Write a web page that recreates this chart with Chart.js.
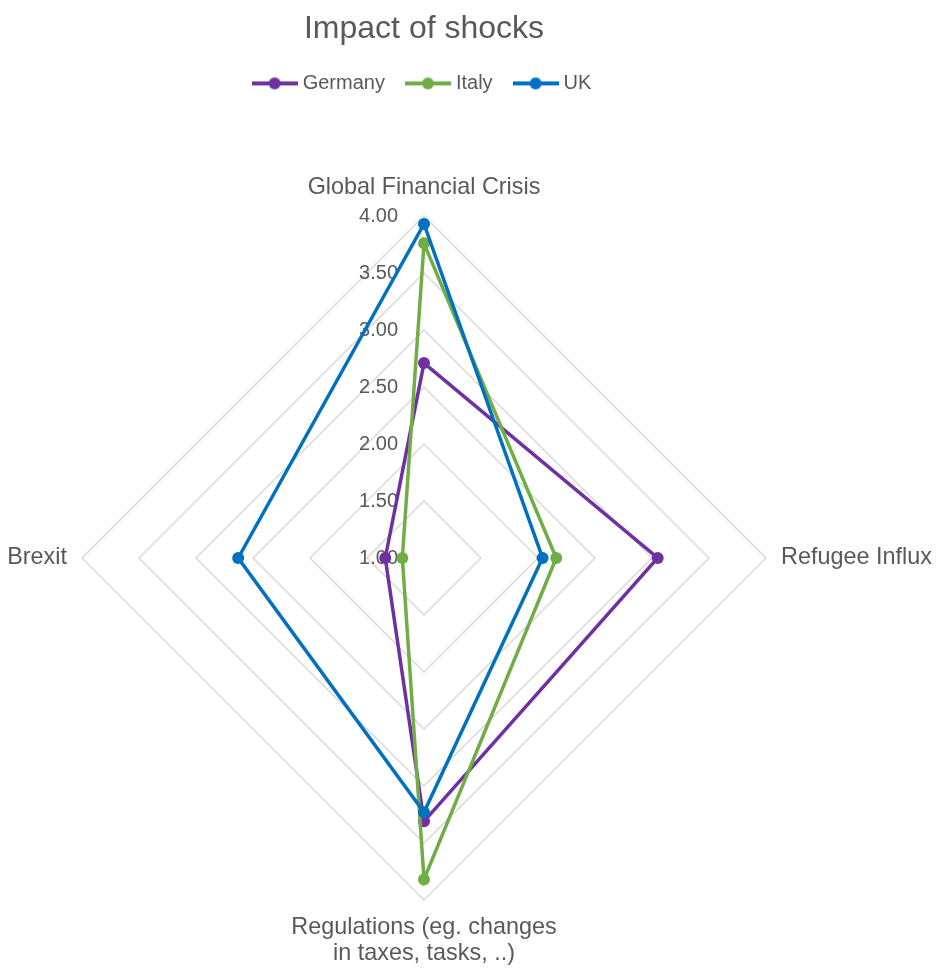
<!DOCTYPE html>
<html>
<head>
<meta charset="utf-8">
<script src="https://cdn.jsdelivr.net/npm/chart.js@4/dist/chart.umd.min.js"></script>
<style>
  html, body { margin: 0; padding: 0; background: #fff; }
  #wrap { width: 939px; height: 974px; position: relative; }
</style>
</head>
<body>
<div id="wrap"><canvas id="chart"></canvas></div>
<script>
const categories = [
    'Global Financial Crisis',
    'Refugee Influx',
    ['Regulations (eg. changes', 'in taxes, tasks, ..)'],
    'Brexit'
];
const germany = [2.71, 3.05, 3.31, 1.34];
const italy = [3.76, 2.16, 3.82, 1.19];
const uk = [3.93, 2.04, 3.23, 2.63];
const tickValues = [1.0, 1.5, 2.0, 2.5, 3.0, 3.5, 4.0];

const textColor = '#595959';
const family = '"Liberation Sans", Arial, sans-serif';
const purple = '#7030a0';
const green = '#70ad47';
const blue = '#0070c0';

// legend marker: short line with a dot in the middle
const makeMarker = (color) => {
    const c = document.createElement('canvas');
    c.width = 46;
    c.height = 14;
    const g = c.getContext('2d');
    g.strokeStyle = color;
    g.lineWidth = 4;
    g.beginPath();
    g.moveTo(0, 7);
    g.lineTo(46, 7);
    g.stroke();
    g.fillStyle = color;
    g.beginPath();
    g.arc(23, 7, 6, 0, Math.PI * 2);
    g.fill();
    return c;
};

// tick values beside the vertical axis + category labels
const radarText = {
    id: 'radarText',
    beforeDatasetsDraw(chart) {
        const scale = chart.scales.r;
        const ctx = chart.ctx;
        ctx.save();
        ctx.fillStyle = textColor;

        ctx.font = `20px ${family}`;
        ctx.textAlign = 'right';
        ctx.textBaseline = 'middle';
        tickValues.forEach(v => {
            const d = scale.getDistanceFromCenterForValue(v);
            ctx.fillText(v.toFixed(2), scale.xCenter - 26, scale.yCenter - d);
        });

        ctx.font = `23.4px ${family}`;
        const lh = 26;
        chart.data.labels.forEach((label, i) => {
            const lines = [].concat(label);
            const p = scale.getPointPosition(i, scale.drawingArea + 15);
            const dx = p.x - scale.xCenter;
            const dy = p.y - scale.yCenter;
            let y;
            if (Math.abs(dx) < 1) {
                ctx.textAlign = 'center';
                y = dy < 0 ? p.y - lh * lines.length + lh / 2 : p.y + lh / 2;
            } else {
                ctx.textAlign = dx > 0 ? 'left' : 'right';
                y = p.y - lh * (lines.length - 1) / 2;
            }
            lines.forEach((t, k) => ctx.fillText(t, p.x, y + k * lh));
        });
        ctx.restore();
    }
};

const markers = [makeMarker(purple), makeMarker(green), makeMarker(blue)];

new Chart(document.getElementById('chart'), {
    type: 'radar',
    data: {
        labels: categories,
        datasets: [
            { label: 'Germany', data: germany, borderColor: purple, backgroundColor: purple, pointBackgroundColor: purple, order: 3 },
            { label: 'Italy', data: italy, borderColor: green, backgroundColor: green, pointBackgroundColor: green, order: 2 },
            { label: 'UK', data: uk, borderColor: blue, backgroundColor: blue, pointBackgroundColor: blue, order: 1 }
        ]
    },
    options: {
        responsive: true,
        maintainAspectRatio: false,
        animation: false,
        layout: { padding: { left: 82, right: 173, top: 0, bottom: 0 } },
        elements: {
            line: { borderWidth: 3.5, fill: false, tension: 0 },
            point: { radius: 6, hoverRadius: 6, borderWidth: 0 }
        },
        plugins: {
            title: {
                display: true,
                text: 'Impact of shocks',
                color: textColor,
                font: { family: family, size: 32, weight: 'normal', lineHeight: 1.2 },
                padding: { top: 10, bottom: 0 }
            },
            // empty subtitle used as a gap between the legend and the plot
            subtitle: {
                display: true,
                text: '',
                weight: 500,
                font: { size: 10, lineHeight: 1 },
                padding: { top: 0, bottom: 29 }
            },
            legend: {
                labels: {
                    usePointStyle: true,
                    pointStyleWidth: 36,
                    padding: 25,
                    color: textColor,
                    font: { family: family, size: 20 },
                    sort: (a, b) => a.datasetIndex - b.datasetIndex,
                    generateLabels: (chart) => Chart.defaults.plugins.legend.labels.generateLabels(chart)
                        .map(item => ({ ...item, pointStyle: markers[item.datasetIndex] }))
                }
            },
            tooltip: { enabled: false }
        },
        scales: {
            r: {
                min: 1,
                max: 4,
                ticks: { display: false, stepSize: 0.5 },
                grid: { color: '#d6d6d6', lineWidth: 1.3 },
                angleLines: { display: false },
                pointLabels: { display: false }
            }
        }
    },
    plugins: [radarText]
});
</script>
</body>
</html>
